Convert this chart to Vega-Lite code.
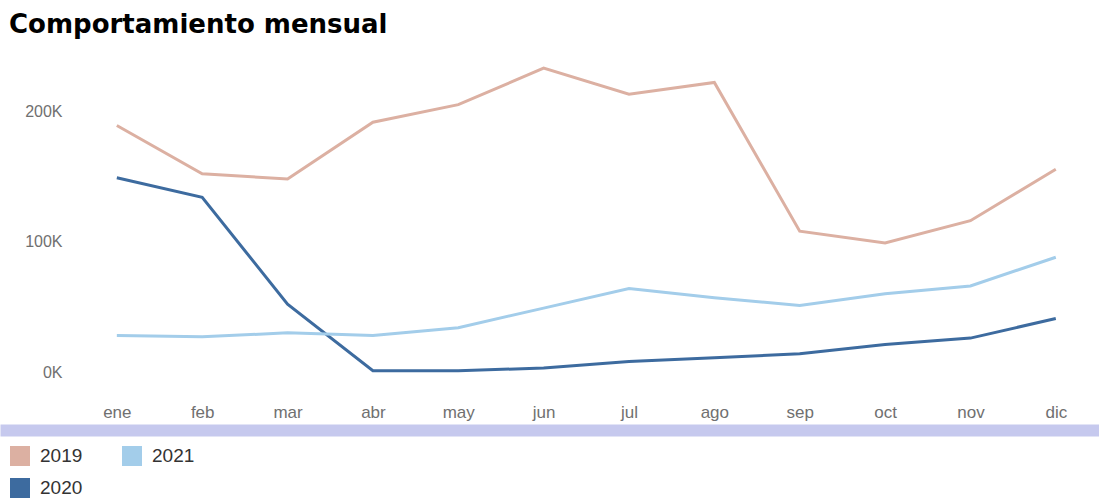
{
  "$schema": "https://vega.github.io/schema/vega-lite/v6.json",
  "width": 1099,
  "height": 313,
  "autosize": {"type": "none"},
  "padding": {"left": 0, "top": 59, "right": 0, "bottom": 129},
  "background": "white",
  "view": {"stroke": null},
  "title": {
    "text": "Comportamiento mensual",
    "anchor": "start",
    "font": "DejaVu Sans",
    "fontSize": 26,
    "fontWeight": "bold",
    "color": "#000000",
    "dx": 9,
    "offset": 21
  },
  "data": {
    "values": [
      {"mes": "ene", "anio": "2019", "ventas": 189000},
      {"mes": "feb", "anio": "2019", "ventas": 152000},
      {"mes": "mar", "anio": "2019", "ventas": 148000},
      {"mes": "abr", "anio": "2019", "ventas": 191500},
      {"mes": "may", "anio": "2019", "ventas": 205000},
      {"mes": "jun", "anio": "2019", "ventas": 233000},
      {"mes": "jul", "anio": "2019", "ventas": 213000},
      {"mes": "ago", "anio": "2019", "ventas": 222000},
      {"mes": "sep", "anio": "2019", "ventas": 108000},
      {"mes": "oct", "anio": "2019", "ventas": 99000},
      {"mes": "nov", "anio": "2019", "ventas": 116000},
      {"mes": "dic", "anio": "2019", "ventas": 155500},
      {"mes": "ene", "anio": "2020", "ventas": 149000},
      {"mes": "feb", "anio": "2020", "ventas": 134000},
      {"mes": "mar", "anio": "2020", "ventas": 52000},
      {"mes": "abr", "anio": "2020", "ventas": 1000},
      {"mes": "may", "anio": "2020", "ventas": 1000},
      {"mes": "jun", "anio": "2020", "ventas": 3000},
      {"mes": "jul", "anio": "2020", "ventas": 8000},
      {"mes": "ago", "anio": "2020", "ventas": 11000},
      {"mes": "sep", "anio": "2020", "ventas": 14000},
      {"mes": "oct", "anio": "2020", "ventas": 21000},
      {"mes": "nov", "anio": "2020", "ventas": 26000},
      {"mes": "dic", "anio": "2020", "ventas": 41000},
      {"mes": "ene", "anio": "2021", "ventas": 28000},
      {"mes": "feb", "anio": "2021", "ventas": 27000},
      {"mes": "mar", "anio": "2021", "ventas": 30000},
      {"mes": "abr", "anio": "2021", "ventas": 28000},
      {"mes": "may", "anio": "2021", "ventas": 34000},
      {"mes": "jun", "anio": "2021", "ventas": 49000},
      {"mes": "jul", "anio": "2021", "ventas": 64000},
      {"mes": "ago", "anio": "2021", "ventas": 57000},
      {"mes": "sep", "anio": "2021", "ventas": 51000},
      {"mes": "oct", "anio": "2021", "ventas": 60000},
      {"mes": "nov", "anio": "2021", "ventas": 66000},
      {"mes": "dic", "anio": "2021", "ventas": 88000}
    ]
  },
  "mark": {"type": "line", "strokeWidth": 3, "strokeJoin": "miter"},
  "encoding": {
    "x": {
      "field": "mes",
      "type": "ordinal",
      "sort": ["ene", "feb", "mar", "abr", "may", "jun", "jul", "ago", "sep", "oct", "nov", "dic"],
      "scale": {"type": "point", "padding": 0.9375, "align": 0.73},
      "axis": {
        "title": null,
        "ticks": false,
        "grid": false,
        "offset": 58,
        "domainWidth": 12,
        "domainColor": "#c6c9ee",
        "labelPadding": -18,
        "labelBaseline": "middle",
        "labelAngle": 0,
        "labelFont": "Liberation Sans",
        "labelFontSize": 17,
        "labelColor": "#707070"
      }
    },
    "y": {
      "field": "ventas",
      "type": "quantitative",
      "scale": {"domain": [0, 240000], "nice": false},
      "axis": {
        "title": null,
        "values": [0, 100000, 200000],
        "labelExpr": "datum.value / 1000 + 'K'",
        "ticks": false,
        "domain": false,
        "grid": false,
        "labelPadding": -62,
        "labelAlign": "right",
        "labelBaseline": "middle",
        "labelFont": "Liberation Sans",
        "labelFontSize": 16,
        "labelColor": "#707070"
      }
    },
    "color": {
      "field": "anio",
      "type": "nominal",
      "scale": {
        "domain": ["2019", "2021", "2020"],
        "range": ["#dcb0a2", "#a3cdea", "#3d6b9f"]
      },
      "legend": {
        "title": null,
        "orient": "none",
        "legendX": 10,
        "legendY": 387,
        "direction": "horizontal",
        "columns": 2,
        "symbolType": "square",
        "symbolSize": 400,
        "symbolStrokeWidth": 0,
        "symbolOpacity": 1,
        "labelFont": "Liberation Sans",
        "labelFontSize": 19,
        "labelColor": "#333333",
        "labelOffset": 10,
        "columnPadding": 39,
        "rowPadding": 12,
        "encode": {
          "symbols": {
            "update": {
              "fill": {"scale": "color", "field": "value"},
              "fillOpacity": {"value": 1}
            }
          }
        }
      }
    }
  }
}
